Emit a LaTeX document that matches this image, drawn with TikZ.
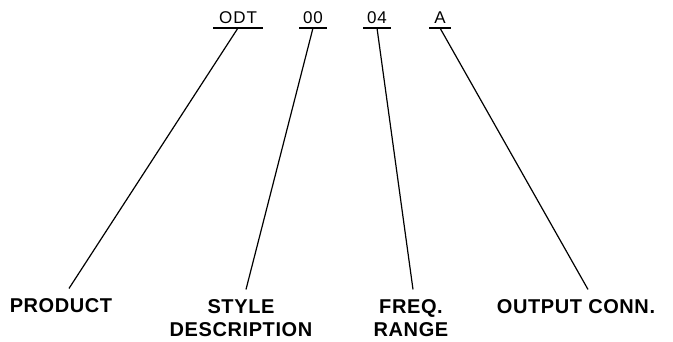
\documentclass[tikz,border=0pt]{standalone}
\usepackage{fontspec}
\setmainfont{Liberation Sans}
\newfontfamily\codefont[LetterSpace=6]{Liberation Sans}
\newfontfamily\labelfont[LetterSpace=3]{Liberation Sans}

\begin{document}
\begin{tikzpicture}[x=1pt, y=-1pt, line width=1.2pt,
  code/.style={anchor=base, inner sep=0pt, font=\codefont\fontsize{17}{19}\selectfont},
  label/.style={anchor=base, inner sep=0pt, align=center,
                font=\labelfont\bfseries\fontsize{20}{23}\selectfont}]

\useasboundingbox (0,0) rectangle (673,341);

% The code letters, each one underlined, the line hangs from the middle
\foreach \x/\name/\text/\ul in {238/odt/ODT/25, 313/dz/00/14, 377/df/04/14, 440/da/A/11} {
  \node[code] (\name) at (\x,23) {\text};
  \draw ([xshift=-\ul pt,yshift=-5pt]\name.base)
    coordinate (\name l) -- ([xshift=\ul pt,yshift=-5pt]\name.base);
  \coordinate (\name s) at ([yshift=-5pt]\name.base);
}

% Labels along the bottom (two-line ones sit on their last line)
\node[label] (prod)  at (61,312)  {PRODUCT};
\node[label] (style) at (241,336) {STYLE\\DESCRIPTION};
\node[label] (freq)  at (411,336) {FREQ.\\RANGE};
\node[label] (outc)  at (576,313) {OUTPUT CONN.};

% Free ends stop a little above each label
\coordinate (prode)  at ([xshift=8pt,yshift=9pt]prod.north);
\coordinate (stylee) at ([xshift=5pt,yshift=9pt]style.north);
\coordinate (freqe)  at ([xshift=2pt,yshift=9pt]freq.north);
\coordinate (outce)  at ([xshift=12pt,yshift=9pt]outc.north);

\draw (odts) -- (prode)
      (dzs)  -- (stylee)
      (dfs)  -- (freqe)
      (das)  -- (outce);
\end{tikzpicture}
\end{document}
